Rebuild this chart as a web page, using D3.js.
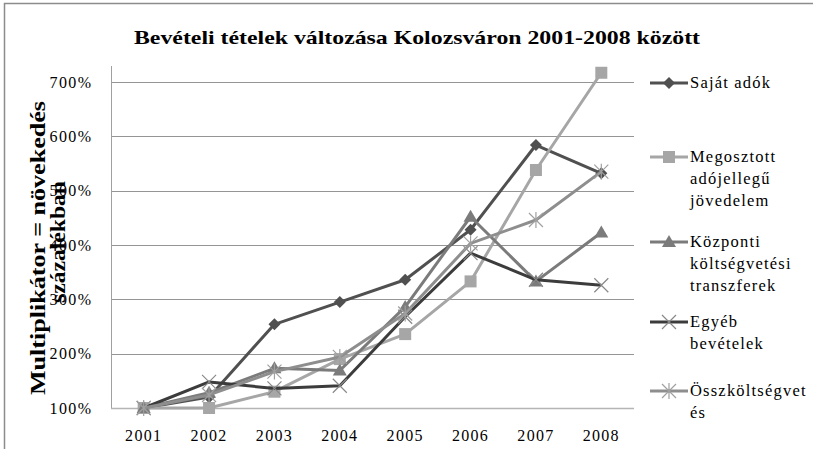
<!DOCTYPE html>
<html>
<head>
<meta charset="utf-8">
<script src="https://cdn.jsdelivr.net/npm/d3@7"></script>
<style>
  body { margin: 0; background: #fff; }
  svg text { font-family: "Liberation Serif", "Times New Roman", serif !important; }
</style>
</head>
<body>
<div id="chart"></div>
<script>
// Chart data
const years = ['2001', '2002', '2003', '2004', '2005', '2006', '2007', '2008'];
const yTicks = [100, 200, 300, 400, 500, 600, 700];

const sajatAdok = [100, 120, 254, 295, 336, 428, 584, 532];
const megosztott = [100, 100, 130, 190, 236, 333, 538, 717];
const kozponti = [100, 128, 173, 169, 286, 452, 333, 423];
const egyeb = [100, 148, 136, 141, 268, 385, 336, 326];
const osszkoltseg = [100, 124, 167, 194, 274, 403, 446, 535];

const seriesNames = [
    ['Saját adók'],
    ['Megosztott', 'adójellegű', 'jövedelem'],
    ['Központi', 'költségvetési', 'transzferek'],
    ['Egyéb', 'bevételek'],
    ['Összköltségvet', 'és']
];

const series = [
    { values: sajatAdok, color: '#505050', marker: 'diamond' },
    { values: megosztott, color: '#a6a6a6', marker: 'square' },
    { values: kozponti, color: '#7b7b7b', marker: 'triangle' },
    { values: egyeb, color: '#3c3c3c', marker: 'x' },
    { values: osszkoltseg, color: '#8e8e8e', marker: 'star' }
];

const W = 813, H = 449;
const plot = { left: 111, right: 634, top: 66, bottom: 408 };

const svg = d3.select('#chart').append('svg')
    .attr('width', W)
    .attr('height', H);

// outer frame (right and bottom run off the picture)
svg.append('rect')
    .attr('x', 4.5).attr('y', 3.5)
    .attr('width', 840).attr('height', 480)
    .attr('fill', 'none')
    .attr('stroke', '#8c8c8c')
    .attr('stroke-width', 1.5);

const x = d3.scaleBand().domain(years).range([plot.left, plot.right]);
const y = d3.scaleLinear().domain([100, 700]).range([plot.bottom, 82]);

// gridlines
svg.append('g')
    .selectAll('line')
    .data(yTicks.slice(1))
    .enter()
    .append('line')
    .attr('x1', plot.left).attr('x2', plot.right)
    .attr('y1', d => Math.round(y(d)) + 0.5)
    .attr('y2', d => Math.round(y(d)) + 0.5)
    .attr('stroke', '#959595')
    .attr('stroke-width', 1);

// y axis
const yAxis = d3.axisLeft(y)
    .tickValues(yTicks)
    .tickSize(0)
    .tickPadding(19)
    .tickFormat(d => d + '%');

const yg = svg.append('g')
    .attr('transform', `translate(${plot.left + 0.5},0)`)
    .call(yAxis);
yg.select('.domain').attr('stroke', '#a0a0a0').attr('d', `M0,${plot.top}V${plot.bottom}`);
yg.selectAll('text').attr('font-size', 16).attr('letter-spacing', 1.4).attr('fill', '#000');

// x axis
const xAxis = d3.axisBottom(x).tickSize(0).tickPadding(21);
const xg = svg.append('g')
    .attr('transform', `translate(0,${Math.round(plot.bottom) + 0.5})`)
    .call(xAxis);
xg.select('.domain').attr('stroke', '#b5b5b5').attr('stroke-width', 1.5)
    .attr('d', `M${plot.left},0H${plot.right}`);
xg.selectAll('text').attr('font-size', 16).attr('letter-spacing', 1.3).attr('fill', '#000');

// title
svg.append('text')
    .attr('x', 417)
    .attr('y', 44)
    .attr('text-anchor', 'middle')
    .attr('font-size', 19)
    .attr('font-weight', 'bold')
    .attr('textLength', 566)
    .attr('lengthAdjust', 'spacingAndGlyphs')
    .text('Bevételi tételek változása Kolozsváron 2001-2008 között');

// y axis title
const yTitle = svg.append('text')
    .attr('transform', 'translate(45,248) rotate(-90)')
    .attr('text-anchor', 'middle')
    .attr('font-size', 22)
    .attr('font-weight', 'bold');
yTitle.append('tspan').attr('x', 0).attr('dy', 0)
    .attr('textLength', 294).attr('lengthAdjust', 'spacingAndGlyphs')
    .text('Multiplikátor = növekedés');
yTitle.append('tspan').attr('x', 6).attr('dy', 20)
    .attr('textLength', 122).attr('lengthAdjust', 'spacingAndGlyphs')
    .text('százalékban');

// marker drawing
function drawMarker(g, type, color, cx, cy) {
    if (type === 'diamond') {
        g.append('path')
            .attr('d', `M${cx},${cy - 6}L${cx + 6},${cy}L${cx},${cy + 6}L${cx - 6},${cy}Z`)
            .attr('fill', color);
    } else if (type === 'square') {
        g.append('rect')
            .attr('x', cx - 6).attr('y', cy - 6)
            .attr('width', 12).attr('height', 12)
            .attr('fill', color);
    } else if (type === 'triangle') {
        g.append('path')
            .attr('d', `M${cx},${cy - 7}L${cx + 7},${cy + 5}L${cx - 7},${cy + 5}Z`)
            .attr('fill', color);
    } else if (type === 'x') {
        g.append('path')
            .attr('d', `M${cx - 7},${cy - 7}L${cx + 7},${cy + 7}M${cx - 7},${cy + 7}L${cx + 7},${cy - 7}`)
            .attr('stroke', '#888').attr('stroke-width', 1.2);
    } else if (type === 'star') {
        g.append('path')
            .attr('d', `M${cx - 7},${cy - 7}L${cx + 7},${cy + 7}M${cx - 7},${cy + 7}L${cx + 7},${cy - 7}M${cx},${cy - 8}V${cy + 8}`)
            .attr('stroke', '#a0a0a0').attr('stroke-width', 1.2);
    }
}

const line = d3.line()
    .x((d, i) => x(years[i]) + x.bandwidth() / 2)
    .y(d => y(d));

series.forEach(s => {
    const g = svg.append('g');
    g.append('path')
        .datum(s.values)
        .attr('d', line)
        .attr('fill', 'none')
        .attr('stroke', s.color)
        .attr('stroke-width', 3)
        .attr('stroke-linejoin', 'round');
    s.values.forEach((v, i) => {
        drawMarker(g, s.marker, s.color, x(years[i]) + x.bandwidth() / 2, y(v));
    });
});

// legend
const legendY = [83, 157, 242, 322, 391];
series.forEach((s, i) => {
    const g = svg.append('g').attr('transform', `translate(0,${legendY[i]})`);
    g.append('line')
        .attr('x1', 650).attr('x2', 688)
        .attr('y1', 0).attr('y2', 0)
        .attr('stroke', s.color).attr('stroke-width', 3);
    drawMarker(g, s.marker, s.color, 669, 0);
    const t = g.append('text')
        .attr('x', 690)
        .attr('y', 5)
        .attr('font-size', 16.5)
        .attr('letter-spacing', 1.2);
    seriesNames[i].forEach((n, j) => {
        t.append('tspan').attr('x', 690).attr('dy', j === 0 ? 0 : 22).text(n);
    });
});
</script>
</body>
</html>
